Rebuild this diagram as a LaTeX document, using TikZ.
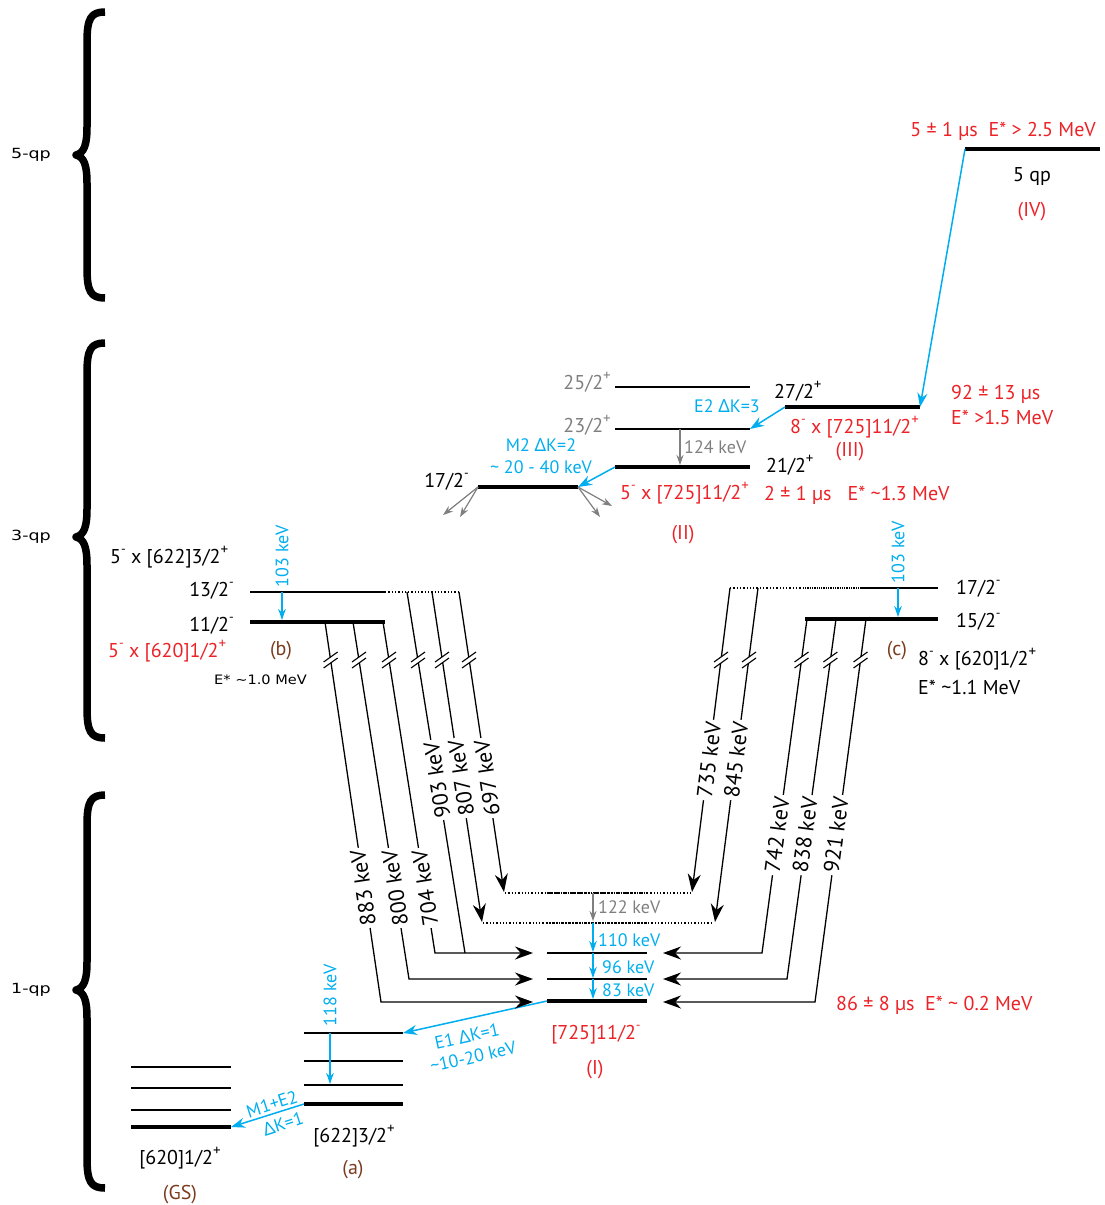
\documentclass[tikz,border=0pt]{standalone}
\usepackage{fontspec}
\setmainfont{PT Sans}
\newfontfamily\gkfont{Noto Sans}
\newfontfamily\widefont{DejaVu Sans}
\usetikzlibrary{arrows.meta}
\definecolor{nred}{HTML}{EC2227}
\definecolor{nblue}{HTML}{00AEEF}
\definecolor{nbrown}{HTML}{7A3B1E}
\definecolor{ngray}{HTML}{7F7F7F}
\newcommand\Dk{{\gkfont Δ}}
\newcommand\smn{\raisebox{0.5em}{\fontsize{13}{13}\selectfont -}}
\newcommand\spl{\raisebox{0.42em}{\fontsize{15}{15}\selectfont +}}
\newcommand\tld{\textasciitilde}
\begin{document}
\begin{tikzpicture}[x=1pt,y=-1pt,
  every node/.style={font=\fontsize{20}{22}\selectfont, inner sep=1pt},
  lv/.style={line width=1.3pt},
  lvk/.style={line width=3.8pt},
  tr/.style={line width=1.3pt},
  tarr/.style={tr,-{Stealth[length=18pt,width=13pt]}},
  barr/.style={nblue,line width=1.5pt,-{Stealth[length=14pt,width=10pt]}},
  sbarr/.style={nblue,line width=1.3pt,-{Stealth[length=11pt,width=7.5pt]}},
  garr/.style={ngray,line width=1.2pt,-{Stealth[length=10pt,width=7pt]}},
  kev/.style={fill=white,inner sep=2.5pt,font=\fontsize{22}{24}\selectfont},
  bl/.style={text=nblue, font=\fontsize{18}{20}\selectfont},
  rd/.style={text=nred},
  brn/.style={text=nbrown},
  gy/.style={text=ngray},
  qp/.style={font=\widefont\fontsize{14}{16}\selectfont},
  brc/.style={line width=7.5pt, line join=round},
  brkmark/.pic={
    \fill[white] (-7,2) -- (7,-8) -- (7,-2) -- (-7,8) -- cycle;
    \draw[line width=1.1pt] (-7,2) -- (7,-8);
    \draw[line width=1.1pt] (-7,8) -- (7,-2);
  }
]
\useasboundingbox (0,0) rectangle (1104,1205);

% ---------------- braces ----------------
\draw[brc] (105,12) .. controls (91,12) and (87,18) .. (87,42) -- (87,127)
  .. controls (87,145) and (84,153) .. (76,155) .. controls (84,157) and (87,165) .. (87,183)
  -- (87,268) .. controls (87,292) and (91,298) .. (105,298);
\draw[brc] (105,343) .. controls (91,343) and (87,349) .. (87,373) -- (87,509)
  .. controls (87,527) and (84,535) .. (76,537) .. controls (84,539) and (87,547) .. (87,565)
  -- (87,708) .. controls (87,732) and (91,738) .. (105,738);
\draw[brc] (105,795) .. controls (91,795) and (87,801) .. (87,825) -- (87,962)
  .. controls (87,980) and (84,988) .. (76,990) .. controls (84,992) and (87,1000) .. (87,1018)
  -- (87,1158) .. controls (87,1182) and (91,1188) .. (105,1188);
\node[qp] (q5) at (31,155) {\scalebox{1.25}[1]{5-qp}};
\node[qp] (q3) at (31,537) {\scalebox{1.25}[1]{3-qp}};
\node[qp] (q1) at (31,990) {\scalebox{1.25}[1]{1-qp}};

% ---------------- coordinates of levels ----------------
\coordinate (IVa) at (965,149);  \coordinate (IVb) at (1100,149);
\coordinate (IIIa) at (785,407); \coordinate (IIIb) at (920,407);
\coordinate (L25a) at (615,387); \coordinate (L25b) at (750,387);
\coordinate (L23a) at (615,429); \coordinate (L23b) at (750,429);
\coordinate (IIa) at (615,467);  \coordinate (IIb) at (750,467);
\coordinate (L17a) at (478,487); \coordinate (L17b) at (578,487);
\coordinate (L13a) at (250,592); \coordinate (L13d) at (385,592); \coordinate (L13b) at (460,592);
\coordinate (L11a) at (250,622); \coordinate (L11b) at (385,622);
\coordinate (R17a) at (730,588); \coordinate (R17s) at (805,588); \coordinate (R17d) at (860,588); \coordinate (R17b) at (938,588);
\coordinate (R15a) at (805,619); \coordinate (R15b) at (938,619);
\coordinate (D1a) at (505,893); \coordinate (D1s) at (547,893); \coordinate (D1t) at (647,893); \coordinate (D1b) at (690,893);
\coordinate (D2a) at (483,923); \coordinate (D2s) at (547,923); \coordinate (D2t) at (647,923); \coordinate (D2b) at (712,923);
\coordinate (Ia1) at (547,953);  \coordinate (Ib1) at (647,953);
\coordinate (Ia2) at (547,979);  \coordinate (Ib2) at (647,979);
\coordinate (Ia3) at (547,1001); \coordinate (Ib3) at (647,1001);
\coordinate (Aa1) at (304,1033); \coordinate (Ab1) at (403,1033);
\coordinate (Aa2) at (304,1061); \coordinate (Ab2) at (403,1061);
\coordinate (Aa3) at (304,1085); \coordinate (Ab3) at (403,1085);
\coordinate (Aa4) at (304,1104); \coordinate (Ab4) at (403,1104);
\coordinate (Ga1) at (131,1067); \coordinate (Gb1) at (231,1067);
\coordinate (Ga2) at (131,1088); \coordinate (Gb2) at (231,1088);
\coordinate (Ga3) at (131,1110); \coordinate (Gb3) at (231,1110);
\coordinate (Ga4) at (131,1127); \coordinate (Gb4) at (231,1127);

% ---------------- levels ----------------
\draw[lvk] (IVa) -- (IVb);
\draw[lvk] (IIIa) -- (IIIb);
\draw[lv] (L25a) -- (L25b);
\draw[lv] (L23a) -- (L23b);
\draw[lvk] (IIa) -- (IIb);
\draw[lvk] (L17a) -- (L17b);
\draw[lv] (L13a) -- (L13d);
\draw[lv, dotted] (L13d) -- (L13b);
\draw[lvk] (L11a) -- (L11b);
\draw[lv, dotted] (R17a) -- (R17s);
\draw[lv, densely dotted] (R17s) -- (R17d);
\draw[lv] (R17d) -- (R17b);
\draw[lvk] (R15a) -- (R15b);
\draw[lv, dotted] (D1a) -- (D1b);
\draw[lv, densely dotted] (D1s) -- (D1t);
\draw[lv, dotted] (D2a) -- (D2b);
\draw[lv, densely dotted] (D2s) -- (D2t);
\draw[line width=2pt] (Ia1) -- (Ib1);
\draw[line width=2pt] (Ia2) -- (Ib2);
\draw[lvk] (Ia3) -- (Ib3);
\draw[lv] (Aa1) -- (Ab1);
\draw[lv] (Aa2) -- (Ab2);
\draw[lv] (Aa3) -- (Ab3);
\draw[lvk] (Aa4) -- (Ab4);
\draw[lv] (Ga1) -- (Gb1);
\draw[lv] (Ga2) -- (Gb2);
\draw[lv] (Ga3) -- (Gb3);
\draw[lvk] (Ga4) -- (Gb4);

% ---------------- blue / gray transitions ----------------
\draw[barr] (IVa) -- (IIIb);
\draw[barr] (IIIa) -- (L23b);
\draw[barr] (IIa) -- (L17b);
\coordinate (c124a) at (680,429); \coordinate (c124b) at (680,465);
\draw[garr] (c124a) -- (c124b);
\coordinate (g1) at (443,515); \coordinate (g2) at (460,517);
\coordinate (g3) at (612,506); \coordinate (g4) at (600,517);
\draw[garr] (L17a) -- (g1);
\draw[garr] (L17a) -- (g2);
\draw[garr] (L17b) -- (g3);
\draw[garr] (L17b) -- (g4);
\coordinate (b103a) at (282,592); \coordinate (b103b) at (282,620);
\draw[sbarr] (b103a) -- (b103b);
\coordinate (c103a) at (898,588); \coordinate (c103b) at (898,617);
\draw[sbarr] (c103a) -- (c103b);
\coordinate (k122a) at (593,893); \coordinate (k122b) at (593,921);
\draw[garr] (k122a) -- (k122b);
\coordinate (k110a) at (593,923); \coordinate (k110b) at (593,952);
\draw[sbarr] (k110a) -- (k110b);
\coordinate (k96a) at (593,953); \coordinate (k96b) at (593,978);
\draw[sbarr] (k96a) -- (k96b);
\coordinate (k83a) at (593,979); \coordinate (k83b) at (593,999);
\draw[sbarr] (k83a) -- (k83b);
\coordinate (k118a) at (330,1033); \coordinate (k118b) at (330,1084);
\draw[sbarr] (k118a) -- (k118b);
\draw[barr] (Ia3) -- (Ab1);
\draw[barr] (Aa4) -- (Gb4);

% ---------------- black transitions ----------------
\coordinate (s883) at (325,622); \coordinate (e883) at (381,1002); \coordinate (f883) at (533,1002);
\coordinate (s800) at (353,622); \coordinate (e800) at (409,979);  \coordinate (f800) at (533,979);
\coordinate (s704) at (383,622); \coordinate (e704) at (435,953);  \coordinate (f704) at (533,953);
\coordinate (s903) at (407,592); \coordinate (e903) at (465,953);
\coordinate (s807) at (432,592); \coordinate (e807) at (482,922);
\coordinate (s697) at (459,592); \coordinate (e697) at (504,892);
\coordinate (s735) at (730,588); \coordinate (e735) at (692,892);
\coordinate (s845) at (758,588); \coordinate (e845) at (715,922);
\coordinate (s742) at (807,619); \coordinate (e742) at (762,953);  \coordinate (f742) at (663,953);
\coordinate (s838) at (836,619); \coordinate (e838) at (787,979);  \coordinate (f838) at (663,979);
\coordinate (s921) at (866,619); \coordinate (e921) at (815,1002); \coordinate (f921) at (663,1002);

\draw[tarr] (s883) -- (e883) -- (f883);
\draw[tarr] (s800) -- (e800) -- (f800);
\draw[tarr] (s704) -- (e704) -- (f704);
\draw[tr] (s903) -- (e903);
\draw[tarr] (s807) -- (e807);
\draw[tarr] (s697) -- (e697);
\draw[tarr] (s735) -- (e735);
\draw[tarr] (s845) -- (e845);
\draw[tarr] (s742) -- (e742) -- (f742);
\draw[tarr] (s838) -- (e838) -- (f838);
\draw[tarr] (s921) -- (e921) -- (f921);

% break marks
\foreach \bx/\by in {330.6/660, 359/660, 389/660, 418/660, 442/660, 469/660,
                     721/660, 749/660, 801.5/660, 830.4/660, 860.5/660}
  \pic at (\bx,\by) {brkmark};

% keV labels on the lines
\node[kev, rotate=98.4] (l883) at (363,888) {883 keV};
\node[kev, rotate=98.9] (l800) at (395,888) {800 keV};
\node[kev, rotate=98.9] (l704) at (425,888) {704 keV};
\node[kev, rotate=99.1] (l903) at (437,780) {903 keV};
\node[kev, rotate=98.6] (l807) at (461,778) {807 keV};
\node[kev, rotate=98.5] (l697) at (487,778) {697 keV};
\node[kev, rotate=82.9] (l735) at (709,760) {735 keV};
\node[kev, rotate=82.7] (l845) at (736,760) {845 keV};
\node[kev, rotate=82.3] (l742) at (777,835) {742 keV};
\node[kev, rotate=82.2] (l838) at (805,835) {838 keV};
\node[kev, rotate=82.4] (l921) at (836,835) {921 keV};

% ---------------- texts ----------------
\node[rd, anchor=base east] (t1) at (1097,136) {5 ± 1 µs\ \ E* > 2.5 MeV};
\node[anchor=base] (t2) at (1032,181) {5 qp};
\node[rd, anchor=base] (t3) at (1032,216) {(IV)};
\node[anchor=base west] (t4) at (773,398) {27/2\spl};
\node[rd, anchor=base west] (t5) at (789,433) {8\smn\ x [725]11/2\spl};
\node[rd, anchor=base] (t6) at (850,456) {(III)};
\node[rd, anchor=base west] (t7) at (950,399) {92 ± 13 µs};
\node[rd, anchor=base west] (t8) at (950,424) {E* >1.5 MeV};
\node[bl, anchor=base east] (t9) at (761,412) {E2 \Dk K=3};
\node[gy, anchor=base east] (t10) at (612,389) {25/2\spl};
\node[gy, anchor=base east] (t11) at (612,432) {23/2\spl};
\node[gy, bl, text=ngray, anchor=base west] (t12) at (683,453) {124 keV};
\node[anchor=base west] (t13) at (765,472) {21/2\spl};
\node[rd, anchor=base west] (t14) at (619,499) {5\smn\ x [725]11/2\spl};
\node[rd, anchor=base] (t15) at (683,539) {(II)};
\node[rd, anchor=base west] (t16) at (763,500) {2 ± 1 µs\ \ \ E* \tld1.3 MeV};
\node[bl, anchor=base] (t17) at (541,451) {M2 \Dk K=2};
\node[bl, anchor=base] (t18) at (541,473) {\tld\ 20 - 40 keV};
\node[anchor=base east] (t19) at (470,487) {17/2\smn};
\node[anchor=base west] (t20) at (109,563) {5\smn\ x [622]3/2\spl};
\node[anchor=base east] (t21) at (235,596) {13/2\smn};
\node[anchor=base east] (t22) at (235,631) {11/2\smn};
\node[brn, anchor=base] (t23) at (281,655) {(b)};
\node[rd, anchor=base west] (t24) at (107,657) {5\smn\ x [620]1/2\spl};
\node[qp, anchor=base west] (t25) at (213,684) {\scalebox{1.12}[1]{\fontsize{13}{15}\selectfont E* \tld1.0 MeV}};
\node[bl, rotate=90] (t26) at (282,556) {103 keV};
\node[anchor=base west] (t27) at (955,594) {17/2\smn};
\node[anchor=base west] (t28) at (955,627) {15/2\smn};
\node[bl, rotate=90] (t29) at (898,552) {103 keV};
\node[brn, anchor=base] (t30) at (897,655) {(c)};
\node[anchor=base west] (t31) at (917,665) {8\smn\ x [620]1/2\spl};
\node[anchor=base west] (t32) at (917,694) {E* \tld1.1 MeV};
\node[bl, text=ngray, anchor=base west] (t33) at (597,913) {122 keV};
\node[bl, anchor=base west] (t34) at (597,946) {110 keV};
\node[bl, anchor=base west] (t35) at (601,973) {96 keV};
\node[bl, anchor=base west] (t36) at (601,996) {83 keV};
\node[rd, anchor=base] (t37) at (596,1039) {[725]11/2\smn};
\node[rd, anchor=base] (t38) at (595,1074) {(I)};
\node[rd, anchor=base west] (t39) at (835,1010) {86 ± 8 µs\ \ E* \tld\ 0.2 MeV};
\node[bl, rotate=12.7] (t40) at (467,1036) {E1 \Dk K=1};
\node[bl, rotate=12.7] (t41) at (473,1057) {\tld10-20 keV};
\node[bl, rotate=90] (t42) at (330,995) {118 keV};
\node[anchor=base] (t43) at (354,1142) {[622]3/2\spl};
\node[brn, anchor=base] (t44) at (353,1174) {(a)};
\node[anchor=base] (t45) at (180,1164) {[620]1/2\spl};
\node[brn, anchor=base] (t46) at (180,1199) {(GS)};
\node[bl, rotate=18] (t47) at (272,1104) {M1+E2};
\node[bl, rotate=18] (t48) at (283,1124) {\Dk K=1};
\end{tikzpicture}
\end{document}
